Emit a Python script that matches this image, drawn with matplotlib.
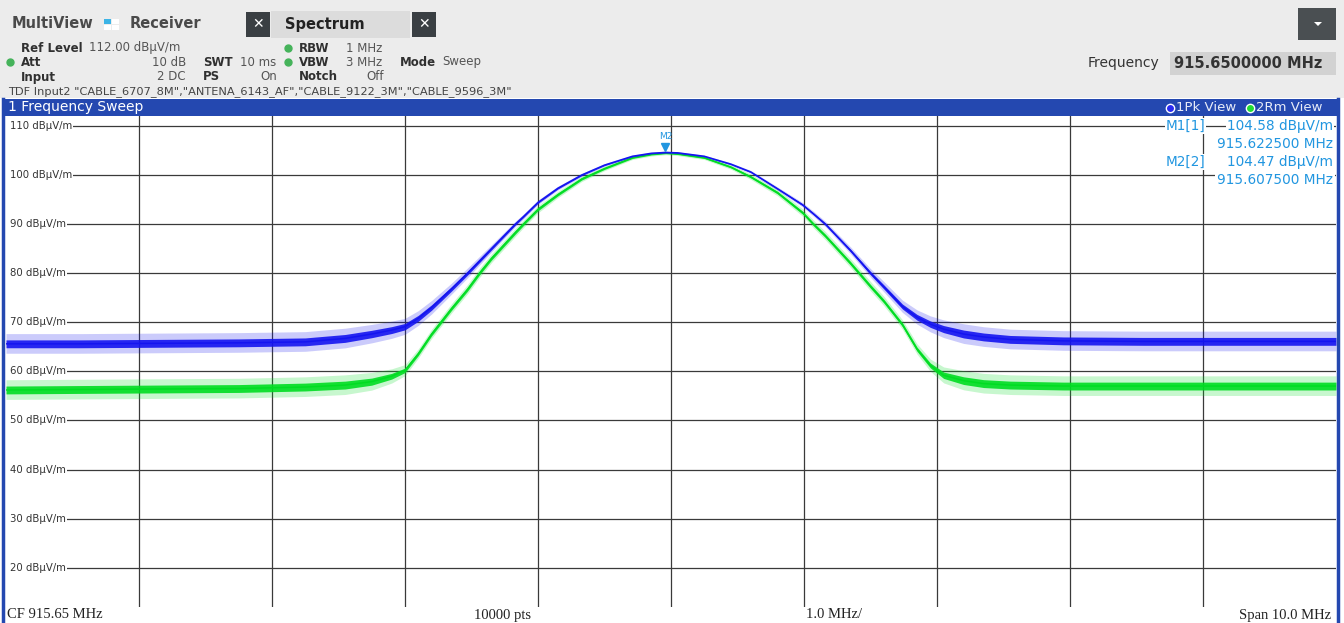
import numpy as np
import matplotlib.pyplot as plt
import matplotlib.transforms as mtransforms
from matplotlib.patches import Rectangle, Polygon

# Sweep settings
center_mhz = 915.65
span_mhz = 10.0
ref_level = 112.0
range_db = 100.0

# Trace readout: frequency (MHz), level (dBuV/m), noise half-width (dB)
freq_mhz = [910.65, 911.2, 911.8, 912.4, 912.9, 913.2, 913.4, 913.55, 913.65, 913.75,
            913.85, 914.0, 914.12, 914.21, 914.3, 914.48, 914.54, 914.65, 914.8, 914.98,
            915.15, 915.36, 915.5, 915.61, 915.7, 915.9, 916.1, 916.25, 916.45, 916.64,
            916.72, 916.81, 917.0, 917.15, 917.25, 917.39, 917.5, 917.6, 917.7, 917.85,
            918.0, 918.2, 918.6, 919.2, 919.9, 920.65]
pk_level = [65.6, 65.6, 65.7, 65.8, 66.0, 66.7, 67.6, 68.4, 69.1, 70.8,
            73.0, 76.8, 80.0, 82.5, 85.0, 90.0, 91.5, 94.4, 97.3, 100.0,
            102.0, 103.8, 104.4, 104.58, 104.5, 103.8, 102.2, 100.6, 97.2, 93.9,
            92.1, 90.0, 84.6, 80.0, 77.2, 73.2, 71.0, 69.6, 68.6, 67.6,
            67.0, 66.5, 66.2, 66.1, 66.1, 66.1]
rm_level = [56.2, 56.3, 56.4, 56.5, 56.8, 57.2, 57.9, 59.0, 60.2, 63.6,
            67.6, 72.8, 76.7, 80.0, 83.0, 88.3, 90.0, 93.0, 96.0, 99.2,
            101.3, 103.5, 104.2, 104.47, 104.3, 103.5, 101.6, 99.6, 96.4, 92.3,
            90.0, 87.6, 82.0, 77.3, 74.3, 69.5, 64.5, 61.2, 59.2, 58.1,
            57.5, 57.2, 57.0, 57.0, 57.0, 57.0]
pk_noise = [0.8, 0.8, 0.8, 0.8, 0.8, 0.8, 0.75, 0.7, 0.65, 0.6,
            0.55, 0.45, 0.4, 0.35, 0.3, 0.22, 0.2, 0.18, 0.15, 0.12,
            0.1, 0.08, 0.08, 0.08, 0.08, 0.08, 0.1, 0.12, 0.14, 0.18,
            0.2, 0.22, 0.28, 0.35, 0.42, 0.5, 0.58, 0.65, 0.72, 0.8,
            0.8, 0.8, 0.8, 0.8, 0.8, 0.8]
rm_noise = [0.8, 0.8, 0.8, 0.8, 0.8, 0.8, 0.72, 0.58, 0.45, 0.38,
            0.38, 0.38, 0.38, 0.38, 0.36, 0.34, 0.32, 0.3, 0.26, 0.22,
            0.18, 0.15, 0.15, 0.15, 0.15, 0.15, 0.18, 0.22, 0.26, 0.3,
            0.32, 0.34, 0.36, 0.38, 0.38, 0.38, 0.42, 0.5, 0.65, 0.78,
            0.8, 0.8, 0.8, 0.8, 0.8, 0.8]

# Markers
mk_names = ["M1[1]", "M2[2]"]
mk_freq = [915.6225, 915.6075]
mk_level = [104.58, 104.47]

level_ticks = [110, 100, 90, 80, 70, 60, 50, 40, 30, 20]

pk_color = '#1414f0'
rm_color = '#00dd22'
mk_color = '#2196e0'
bar_color = '#2448b0'
grid_color = '#3a3a3a'

W, H = 1344, 623
fig = plt.figure(figsize=(W / 100, H / 100), dpi=100, facecolor='white')

# trace window (pixel box 6..1336 x 116..607)
ax = fig.add_axes([6 / W, 1 - 607 / H, 1330 / W, 491 / H])
ax.set_facecolor('white')
f0 = center_mhz - span_mhz / 2
ax.set_xlim(f0, f0 + span_mhz)
ax.set_ylim(ref_level - range_db, ref_level)
ax.set_xticks([f0 + i for i in range(1, 10)])
ax.set_yticks(level_ticks)
ax.tick_params(length=0, labelbottom=False, labelleft=False)
ax.grid(True, color=grid_color, linewidth=0.9)
for s in ax.spines.values():
    s.set_visible(False)

f = np.array(freq_mhz)
for lev, nz, col, z in [(rm_level, rm_noise, rm_color, 3), (pk_level, pk_noise, pk_color, 4)]:
    lev = np.array(lev)
    nz = np.array(nz)
    ax.fill_between(f, lev - 2.4 * nz, lev + 2.6 * nz, color=col, alpha=0.22, lw=0, zorder=z)
    ax.fill_between(f, lev - nz, lev + nz, color=col, alpha=0.9, lw=0, zorder=z)
    ax.plot(f, lev, color=col, lw=1.1, zorder=z)

# level labels on the grid
ytr = ax.get_yaxis_transform()
for v in level_ticks:
    ax.text(4 / 1330, v, f"{v} dBµV/m", transform=ytr, fontsize=7.3, color='#333333',
            va='center', ha='left', zorder=6,
            bbox=dict(facecolor='white', edgecolor='none', pad=0.6))
# keep the gridlines clear of the left margin (under the traces)
ax.axvspan(f0, f0 + 4.5 * span_mhz / 1330, color='white', lw=0, zorder=2)

# marker M2 symbol
tri = mtransforms.offset_copy(ax.transData, fig=fig, x=0, y=6, units='dots')
ax.plot([mk_freq[1]], [mk_level[1]], marker='v', markersize=6, color=mk_color,
        transform=tri, zorder=7, clip_on=False)
ax.annotate("M2", xy=(mk_freq[1], mk_level[1]), xytext=(0, 16), textcoords='offset pixels',
            ha='center', va='center', fontsize=6.5, color=mk_color, zorder=7)

# marker table
for i, (name, fr, lv) in enumerate(zip(mk_names, mk_freq, mk_level)):
    y1 = 1 - (126 + 36 * i - 116) / 491
    y2 = 1 - (144 + 36.5 * i - 116) / 491
    ax.text((1205 - 6) / 1330, y1, name, transform=ax.transAxes, ha='right', va='center',
            fontsize=9.8, color=mk_color, zorder=8,
            bbox=dict(facecolor='white', edgecolor='none', pad=0.5))
    ax.text((1333 - 6) / 1330, y1, f"{lv:.2f} dBµV/m", transform=ax.transAxes, ha='right',
            va='center', fontsize=9.8, color=mk_color, zorder=8,
            bbox=dict(facecolor='white', edgecolor='none', pad=0.5))
    ax.text((1333 - 6) / 1330, y2, f"{fr:.6f} MHz", transform=ax.transAxes, ha='right',
            va='center', fontsize=9.8, color=mk_color, zorder=8,
            bbox=dict(facecolor='white', edgecolor='none', pad=1.2))

# screen furniture in pixel coordinates
ov = fig.add_axes([0, 0, 1, 1], facecolor='none')
ov.set_xlim(0, W)
ov.set_ylim(H, 0)
ov.axis('off')

ov.add_patch(Rectangle((0, 0), W, 98, color='#ececec', lw=0))
ov.add_patch(Rectangle((3, 99), 1335, 17, color=bar_color, lw=0))
ov.plot([3.2, 3.2], [99, H], color=bar_color, lw=2.5)
ov.plot([1337.8, 1337.8], [99, H], color=bar_color, lw=2.5)

hdr = '#4a4a4a'
ov.text(12, 24, "MultiView", fontsize=10.5, fontweight='bold', color=hdr, va='center')
ov.add_patch(Rectangle((104, 19), 7, 5, color='#3cb4e6', lw=0))
ov.add_patch(Rectangle((112, 19), 7, 5, color='white', lw=0))
ov.add_patch(Rectangle((104, 25), 7, 5, color='white', lw=0))
ov.add_patch(Rectangle((112, 25), 7, 5, color='white', lw=0))
ov.text(130, 24, "Receiver", fontsize=10.5, fontweight='bold', color=hdr, va='center')
ov.add_patch(Rectangle((271, 11), 139, 27, color='#dcdcdc', lw=0))
ov.text(285, 24, "Spectrum", fontsize=10.5, fontweight='bold', color='#222222', va='center')
for x0 in (246, 412):
    ov.add_patch(Rectangle((x0, 12), 24, 25, color='#3a3f43', lw=0))
    ov.text(x0 + 12, 24.5, "✕", fontsize=10, fontweight='bold', color='white',
            ha='center', va='center')
ov.add_patch(Rectangle((1298, 8), 38, 32, color='#4a4f52', lw=0))
ov.add_patch(Polygon([(1314, 22), (1322, 22), (1318, 26)], color='white', lw=0))

ov.text(1088, 63, "Frequency", fontsize=10, color='#333333', va='center')
ov.add_patch(Rectangle((1170, 52), 166, 23, color='#d2d2d2', lw=0))
ov.text(1174, 63.5, "915.6500000 MHz", fontsize=10.5, fontweight='bold', color='#333333',
        va='center')

lab = '#303030'
val = '#555555'
dot = '#45b35a'
rows = [
    (48, [(21, "Ref Level", True, 'left'), (89, "112.00 dBµV/m", False, 'left'),
          (299, "RBW", True, 'left'), (346, "1 MHz", False, 'left')]),
    (62, [(21, "Att", True, 'left'), (186, "10 dB", False, 'right'),
          (203, "SWT", True, 'left'), (240, "10 ms", False, 'left'),
          (299, "VBW", True, 'left'), (346, "3 MHz", False, 'left'),
          (400, "Mode", True, 'left'), (442, "Sweep", False, 'left')]),
    (77, [(21, "Input", True, 'left'), (186, "2 DC", False, 'right'),
          (203, "PS", True, 'left'), (277, "On", False, 'right'),
          (299, "Notch", True, 'left'), (366, "Off", False, 'left')]),
]
for y, items in rows:
    for x, s, bold, ha in items:
        ov.text(x, y, s, fontsize=8.5, fontweight='bold' if bold else 'normal',
                color=lab if bold else val, va='center', ha=ha)
for x, y in [(288, 48), (10, 62), (288, 62)]:
    ov.plot([x], [y], marker='o', markersize=5, color=dot, markeredgecolor=dot)
ov.text(8, 92, 'TDF Input2 "CABLE_6707_8M","ANTENA_6143_AF","CABLE_9122_3M","CABLE_9596_3M"',
        fontsize=8.2, color='#444444', va='center')

ov.text(8, 107.5, "1 Frequency Sweep", fontsize=10, color='white', va='center')
for x, c in [(1170, '#2a2af0'), (1250, '#22dd33')]:
    ov.plot([x], [107.5], marker='o', markersize=7, color='white', markeredgewidth=0)
    ov.plot([x], [107.5], marker='o', markersize=5, color=c, markeredgewidth=0)
ov.text(1176, 107.5, "1Pk View", fontsize=9.5, color='#e8ecf8', va='center')
ov.text(1256, 107.5, "2Rm View", fontsize=9.5, color='#e8ecf8', va='center')

foot = dict(fontsize=10.5, color='#222222', va='center', family=['Liberation Serif', 'DejaVu Serif'])
ov.text(7, 615, f"CF {center_mhz:.2f} MHz", ha='left', **foot)
ov.text(503, 615, "10000 pts", ha='center', **foot)
ov.text(834, 615, f"{span_mhz / 10:.1f} MHz/", ha='center', **foot)
ov.text(1331, 615, f"Span {span_mhz:.1f} MHz", ha='right', **foot)

fig.savefig('out.png', dpi=100)
